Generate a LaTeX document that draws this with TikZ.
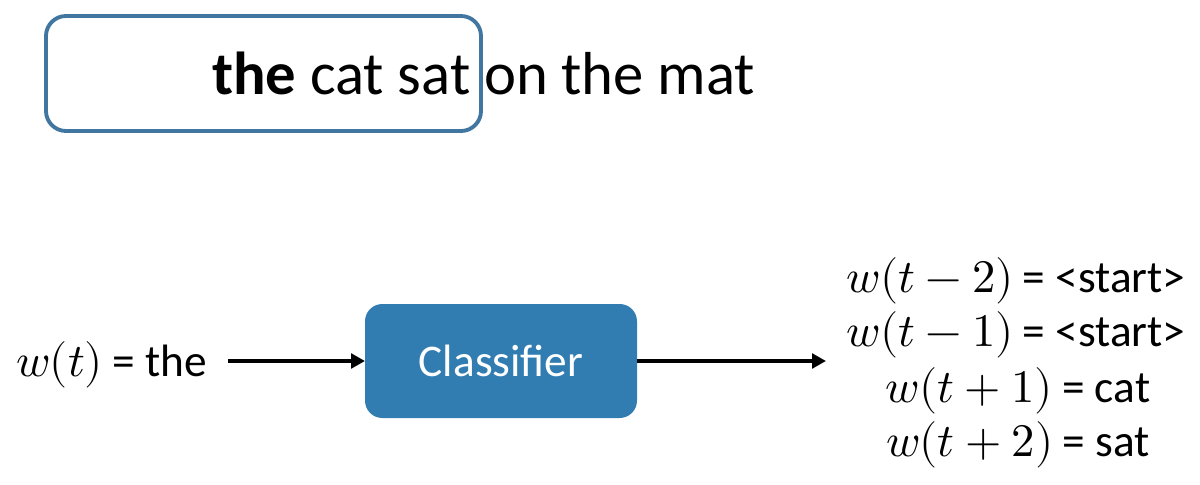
\documentclass[tikz,border=0pt]{standalone}
\usepackage{fontspec}
\usepackage{unicode-math}
\setmainfont{Carlito}
\setmathfont{Latin Modern Math}
\usetikzlibrary{arrows.meta}
\definecolor{boxline}{RGB}{65,118,160}
\definecolor{boxfill}{RGB}{49,125,178}
\newcommand{\mth}[1]{{\fontsize{35}{42}\selectfont$#1$}\hspace{7pt}}
\tikzset{
  topframe/.style={draw=boxline, line width=2.9pt, rounded corners=15pt},
  classbox/.style={fill=boxfill, rounded corners=13pt},
  conn/.style={line width=3pt, -{Triangle[length=10.5pt,width=11pt]}},
  lbl/.style={inner sep=0pt, font=\fontsize{34}{40}\selectfont},
}
\begin{document}
\begin{tikzpicture}[x=0.75pt,y=-0.75pt]
\useasboundingbox (0,0) rectangle (1200,485);
\path[topframe] (46,16) rectangle (481,131);
\node[inner sep=0pt, anchor=base west, font=\fontsize{45.5}{54}\selectfont] (sent) at (212,94) {\textbf{the} cat sat on the mat};
\path[classbox] (365,304) rectangle (637,418);
\node[inner sep=0pt, text=white, font=\fontsize{34}{40}\selectfont] (cls) at (501,361) {Classifier};
\coordinate (clsW) at (365,361);
\coordinate (clsE) at (637,361);
\node[lbl, anchor=base east] (in) at (207,376) {\mth{w(t)}= the};
\coordinate (inE) at (228,361);
\coordinate (outE) at (826,361);
\draw[conn] (inE) -- (clsW);
\draw[conn] (clsE) -- (outE);
\node[lbl, anchor=base] (o1) at (1016,292) {\mth{w(t-2)}= <start>};
\node[lbl, anchor=base] (o2) at (1016,346) {\mth{w(t-1)}= <start>};
\node[lbl, anchor=base] (o3) at (1018,402) {\mth{w(t+1)}= cat};
\node[lbl, anchor=base] (o4) at (1018,456) {\mth{w(t+2)}= sat};
\end{tikzpicture}
\end{document}
